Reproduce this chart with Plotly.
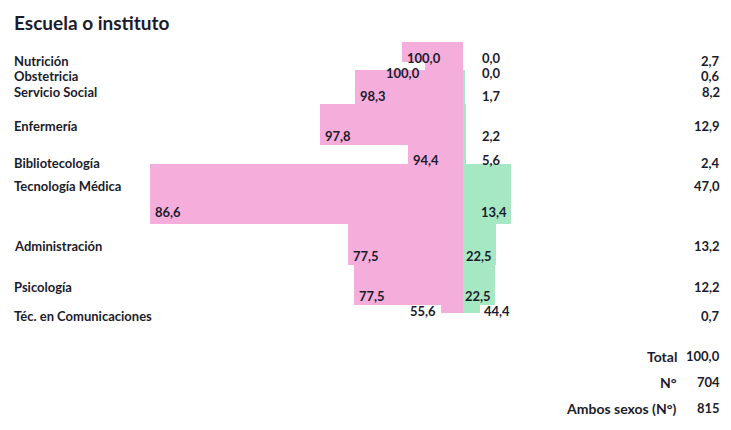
import math
import plotly.graph_objects as go

# ---------------- data ----------------
categories = ["Nutrición", "Obstetricia", "Servicio Social", "Enfermería", "Bibliotecología",
              "Tecnología Médica", "Administración", "Psicología", "Téc. en Comunicaciones"]
mujeres_pct = [100.0, 100.0, 98.3, 97.8, 94.4, 86.6, 77.5, 77.5, 55.6]
hombres_pct = [0.0, 0.0, 1.7, 2.2, 5.6, 13.4, 22.5, 22.5, 44.4]
share_pct = [2.7, 0.6, 8.2, 12.9, 2.4, 47.0, 13.2, 12.2, 0.7]
total_pct = 100.0
n_mujeres = 704
n_ambos = 815
title = "Escuela o instituto"

# ---------------- style / layout constants ----------------
WIN_W, WIN_H = 731, 430
PAGE_MARGIN = 8       # default body margin of the html page
CENTER = 463          # x of the split between women and men (window px units)
TOP = 42              # top of the first band
H_COEF = 15.5         # band thickness = H_COEF * ln(1 + share)
AREA_COEF = 461       # band area (thickness * length) = AREA_COEF * share
MIN_GAP = 15          # minimum vertical distance between consecutive text rows
PINK = "#F5AEDC"
GREEN = "#A6E8C4"
TXT = "#1c1c2c"
FONT = "Lato"


def fmt(v):
    return f"{v:.1f}".replace(".", ",")


def font(size):
    return dict(family=FONT, size=size, color=TXT, weight="bold")


def spread(vals):
    out = []
    for v in vals:
        out.append(v if not out else max(v, out[-1] + MIN_GAP))
    return out


heights = [H_COEF * math.log(1 + s) for s in share_pct]
lengths = [AREA_COEF * s / h for s, h in zip(share_pct, heights)]
pink_len = [L * m / 100 for L, m in zip(lengths, mujeres_pct)]
green_len = [L * h / 100 for L, h in zip(lengths, hombres_pct)]
tops = []
y = TOP
for h in heights:
    tops.append(y)
    y += h
centers = [t + h / 2 for t, h in zip(tops, heights)]
label_y = spread([t + min(22, 0.7 * h + 5) for t, h in zip(tops, heights)])
value_y = spread([t + h - min(12, 0.22 * h) for t, h in zip(tops, heights)])

fig = go.Figure()
fig.add_trace(go.Bar(y=centers, x=pink_len, base=[CENTER - p for p in pink_len], width=heights,
                     orientation="h", marker=dict(color=PINK, line=dict(width=0)),
                     hoverinfo="skip", showlegend=False))
fig.add_trace(go.Bar(y=centers, x=green_len, base=[CENTER] * len(green_len), width=heights,
                     orientation="h", marker=dict(color=GREEN, line=dict(width=0)),
                     hoverinfo="skip", showlegend=False))

ann = []
ann.append(dict(x=12, y=22, text=title, xanchor="left", yanchor="middle", showarrow=False,
                font=font(19)))

for i, cat in enumerate(categories):
    ylab = label_y[i]
    ann.append(dict(x=12, y=ylab, text=cat, xanchor="left", yanchor="middle", showarrow=False,
                    font=font(13)))
    ann.append(dict(x=722, y=ylab, text=fmt(share_pct[i]), xanchor="right", yanchor="middle",
                    showarrow=False, font=font(13)))
    yv = value_y[i]
    left = CENTER - pink_len[i]
    if pink_len[i] >= 40:
        ann.append(dict(x=left + 3, y=yv, text=fmt(mujeres_pct[i]), xanchor="left", yanchor="middle",
                        showarrow=False, font=font(13)))
    else:
        ann.append(dict(x=left - 3, y=yv, text=fmt(mujeres_pct[i]), xanchor="right", yanchor="middle",
                        showarrow=False, font=font(13)))
    right = CENTER + green_len[i]
    if green_len[i] >= 30:
        ann.append(dict(x=right - 2, y=yv, text=fmt(hombres_pct[i]), xanchor="right", yanchor="middle",
                        showarrow=False, font=font(13)))
    else:
        ann.append(dict(x=max(right, CENTER + 15) + 2, y=yv, text=fmt(hombres_pct[i]), xanchor="left",
                        yanchor="middle", showarrow=False, font=font(13)))

summary_labels = ["Total", "N°", "Ambos sexos (N°)"]
summary_values = [fmt(total_pct), str(n_mujeres), str(n_ambos)]
for k, (lab, val) in enumerate(zip(summary_labels, summary_values)):
    yy = 356 + 26 * k
    ann.append(dict(x=679, y=yy, text=lab, xanchor="right", yanchor="middle", showarrow=False,
                    font=font(14)))
    ann.append(dict(x=722, y=yy, text=val, xanchor="right", yanchor="middle", showarrow=False,
                    font=font(13)))

fig.update_layout(
    width=WIN_W - 2 * PAGE_MARGIN, height=WIN_H - 2 * PAGE_MARGIN,
    margin=dict(l=0, r=0, t=0, b=0),
    paper_bgcolor="white", plot_bgcolor="white",
    xaxis=dict(range=[PAGE_MARGIN, WIN_W - PAGE_MARGIN], visible=False, fixedrange=True),
    yaxis=dict(range=[WIN_H - PAGE_MARGIN, PAGE_MARGIN], visible=False, fixedrange=True),
    annotations=ann, bargap=0, barmode="overlay",
)
fig.write_html("out.html")
